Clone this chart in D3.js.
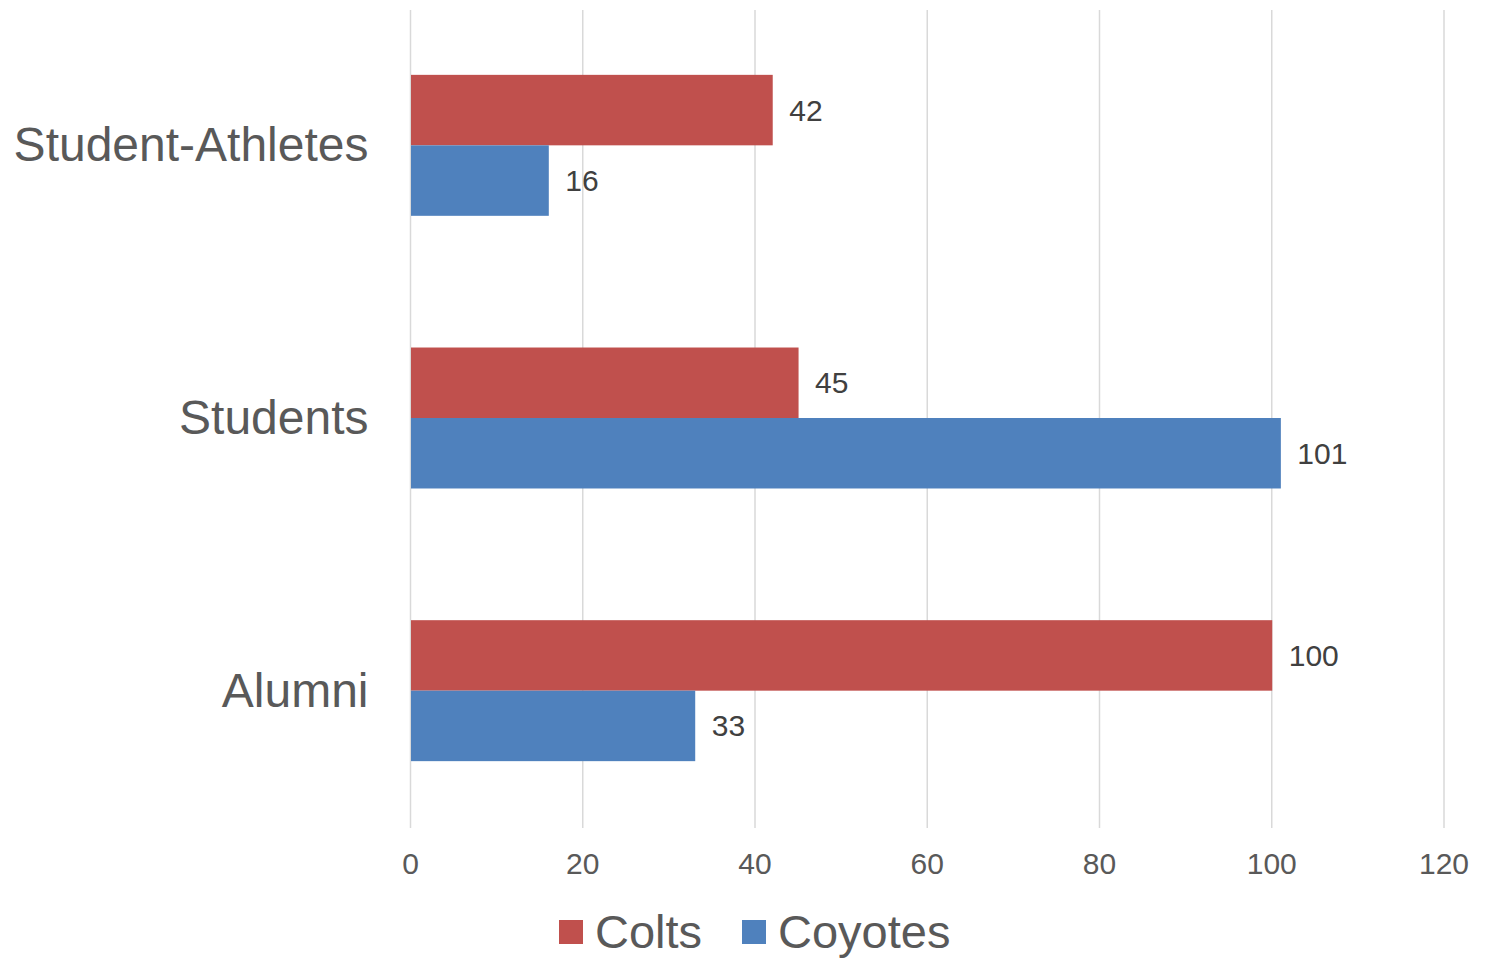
<!DOCTYPE html>
<html>
<head>
<meta charset="utf-8">
<script src="https://cdn.jsdelivr.net/npm/d3@7"></script>
<style>
  body { margin: 0; background: #fff; }
  svg { display: block; font-family: "Liberation Sans", Arial, sans-serif; }
</style>
</head>
<body>
<svg id="chart" width="1485" height="958"></svg>
<script>
var categories = ["Student-Athletes", "Students", "Alumni"];
var seriesNames = ["Colts", "Coyotes"];
var colts = [42, 45, 100];
var coyotes = [16, 101, 33];
var xTicks = [0, 20, 40, 60, 80, 100, 120];
var colors = ["#C0504D", "#4F81BD"];

var svg = d3.select("#chart");
var margin = {top: 10, right: 41, bottom: 130, left: 410.5},
    width = 1485 - margin.left - margin.right,
    height = 958 - margin.top - margin.bottom;

var g = svg.append("g").attr("transform", "translate(" + margin.left + "," + margin.top + ")");

var x = d3.scaleLinear().domain([0, 120]).range([0, width]);
var y0 = d3.scaleBand().domain(categories).range([-1, height - 1]).paddingInner(0.483).paddingOuter(0.2415);
var y1 = d3.scaleBand().domain(seriesNames).range([0, y0.bandwidth()]);

var rows = categories.map(function(c, i) {
  return {cat: c, values: [{key: "Colts", v: colts[i]}, {key: "Coyotes", v: coyotes[i]}]};
});

// gridlines
g.append("g")
  .selectAll("line")
  .data(xTicks)
  .enter().append("line")
  .attr("x1", function(d) { return x(d); })
  .attr("x2", function(d) { return x(d); })
  .attr("y1", 0)
  .attr("y2", height)
  .attr("stroke", "#D9D9D9")
  .attr("stroke-width", 1.5);

// x tick labels
g.append("g")
  .selectAll("text")
  .data(xTicks)
  .enter().append("text")
  .attr("x", function(d) { return x(d); })
  .attr("y", height + 46)
  .attr("text-anchor", "middle")
  .attr("fill", "#595959")
  .style("font-size", "30px")
  .text(function(d) { return d; });

// category labels
g.append("g")
  .selectAll("text")
  .data(categories)
  .enter().append("text")
  .attr("x", -42)
  .attr("y", function(d) { return y0(d) + y0.bandwidth() / 2; })
  .attr("dy", "0.33em")
  .attr("text-anchor", "end")
  .attr("fill", "#595959")
  .style("font-size", "48px")
  .text(function(d) { return d; });

var grp = g.append("g")
  .selectAll("g")
  .data(rows)
  .enter().append("g")
  .attr("transform", function(d) { return "translate(0," + y0(d.cat) + ")"; });

grp.selectAll("rect")
  .data(function(d) { return d.values; })
  .enter().append("rect")
  .attr("x", x(0) + 0.5)
  .attr("y", function(d) { return y1(d.key); })
  .attr("width", function(d) { return x(d.v) - x(0); })
  .attr("height", y1.bandwidth())
  .attr("fill", function(d, i) { return colors[i]; });

grp.selectAll("text")
  .data(function(d) { return d.values; })
  .enter().append("text")
  .attr("x", function(d) { return x(d.v) + 17; })
  .attr("y", function(d) { return y1(d.key) + y1.bandwidth() / 2; })
  .attr("dy", "0.35em")
  .attr("fill", "#404040")
  .style("font-size", "30px")
  .text(function(d) { return d.v; });

// legend
var legend = svg.append("g").attr("transform", "translate(559,932)");
var legX = [0, 183];
var item = legend.selectAll("g")
  .data(seriesNames)
  .enter().append("g")
  .attr("transform", function(d, i) { return "translate(" + legX[i] + ",0)"; });
item.append("rect")
  .attr("x", 0)
  .attr("y", -12)
  .attr("width", 24)
  .attr("height", 24)
  .attr("fill", function(d, i) { return colors[i]; });
item.append("text")
  .attr("x", 36)
  .attr("y", 0)
  .attr("dy", "0.34em")
  .attr("fill", "#595959")
  .style("font-size", "47px")
  .text(function(d) { return d; });
</script>
</body>
</html>
